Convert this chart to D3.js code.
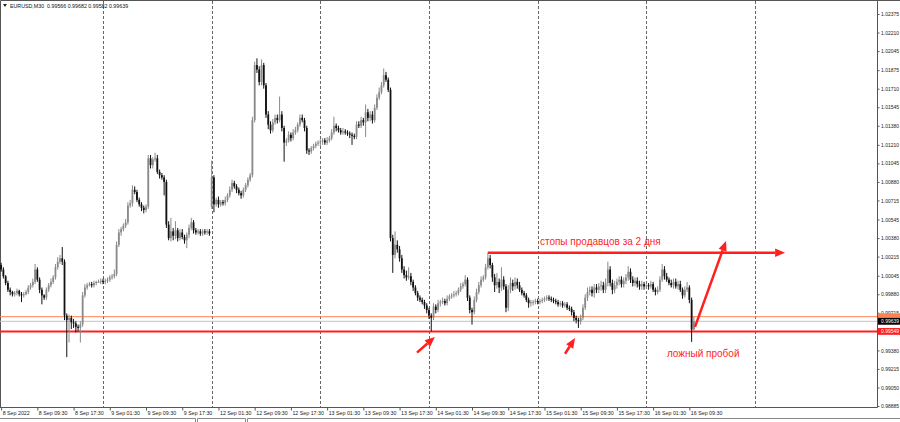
<!DOCTYPE html>
<html>
<head>
<meta charset="utf-8">
<title>EURUSD,M30</title>
<script src="https://d3js.org/d3.v7.min.js"></script>
<style>
  body { margin: 0; background: #fff; }
  svg { display: block; font-family: "Liberation Sans", Arial, sans-serif; }
</style>
</head>
<body>
<div id="chart"></div>
<script>
// ---- data (M30 candles, 8 Sep 01:30 .. 16 Sep 10:30) ----
const symbol = "EURUSD,M30";
const lastQuote = "0.99566 0.99682 0.99582 0.99639";
const pip = 0.0001;
const firstSlot = 3;            // 8 Sep 01:30 = half-hour slot 3 of the first day
const firstOpen = 1.0014;
const mondayIndex = 93;         // first candle of 12 Sep (weekend gap)
const mondayOpen = 1.0066;

const closes = [
  // 8 Sep
  1.0010, 1.0004, 0.9998, 0.9992, 0.9990, 0.9988, 0.9989, 0.9991, 0.9988, 0.9987,
  0.9988, 0.9990, 0.9994, 0.9996, 0.9999, 1.0010, 1.0001, 0.9992, 0.9987, 0.9985,
  0.9992, 0.9996, 0.9999, 1.0003, 1.0012, 1.0017, 1.0020, 1.0017, 0.9969, 0.9965,
  0.9967, 0.9963, 0.9962, 0.9959, 0.9958, 0.9961, 0.9987, 0.9994, 0.9996, 0.9997,
  0.9996, 0.9998, 0.9999, 0.9999, 1.0000,
  // 9 Sep
  0.9999, 1.0000, 1.0001, 1.0003, 1.0004, 1.0006, 1.0032, 1.0043, 1.0046, 1.0049,
  1.0052, 1.0067, 1.0069, 1.0081, 1.0079, 1.0072, 1.0068, 1.0065, 1.0063, 1.0066,
  1.0109, 1.0103, 1.0108, 1.0109, 1.0097, 1.0094, 1.0092, 1.0088, 1.0050, 1.0038,
  1.0044, 1.0040, 1.0045, 1.0038, 1.0043, 1.0039, 1.0036, 1.0041, 1.0047, 1.0052,
  1.0045, 1.0043, 1.0044, 1.0042, 1.0044, 1.0043, 1.0044, 1.0042,
  // 12 Sep
  1.0092, 1.0068, 1.0072, 1.0068, 1.0070, 1.0069, 1.0072, 1.0076, 1.0081, 1.0087,
  1.0084, 1.0081, 1.0078, 1.0076, 1.0081, 1.0085, 1.0090, 1.0094, 1.0143, 1.0192,
  1.0188, 1.0177, 1.0192, 1.0174, 1.0148, 1.0139, 1.0134, 1.0141, 1.0145, 1.0143,
  1.0148, 1.0136, 1.0123, 1.0125, 1.0130, 1.0127, 1.0132, 1.0134, 1.0139, 1.0145,
  1.0143, 1.0136, 1.0116, 1.0115, 1.0118, 1.0120, 1.0122, 1.0123,
  // 13 Sep
  1.0124, 1.0125, 1.0123, 1.0125, 1.0127, 1.0132, 1.0138, 1.0136, 1.0134, 1.0132,
  1.0133, 1.0132, 1.0131, 1.0130, 1.0129, 1.0128, 1.0139, 1.0138, 1.0143, 1.0141,
  1.0150, 1.0145, 1.0148, 1.0143, 1.0154, 1.0163, 1.0168, 1.0174, 1.0183, 1.0179,
  1.0170, 1.0038, 1.0023, 1.0032, 1.0028, 1.0020, 1.0010, 1.0005, 1.0003, 1.0004,
  0.9999, 0.9994, 0.9989, 0.9985, 0.9983, 0.9981, 0.9978, 0.9974,
  // 14 Sep
  0.9969, 0.9967, 0.9977, 0.9974, 0.9980, 0.9981, 0.9982, 0.9980, 0.9984, 0.9986,
  0.9987, 0.9988, 0.9989, 0.9992, 0.9995, 0.9997, 1.0001, 0.9985, 0.9974, 0.9972,
  0.9983, 0.9990, 0.9996, 1.0001, 1.0003, 1.0012, 1.0020, 1.0014, 1.0003, 0.9996,
  0.9999, 0.9994, 1.0001, 0.9995, 0.9976, 0.9992, 0.9998, 0.9995, 0.9999, 0.9996,
  0.9992, 0.9989, 0.9987, 0.9983, 0.9980, 0.9981, 0.9981, 0.9982,
  // 15 Sep
  0.9981, 0.9982, 0.9983, 0.9984, 0.9985, 0.9984, 0.9983, 0.9982, 0.9981, 0.9979,
  0.9980, 0.9978, 0.9979, 0.9976, 0.9975, 0.9972, 0.9967, 0.9965, 0.9964, 0.9967,
  0.9976, 0.9985, 0.9990, 0.9992, 0.9989, 0.9994, 0.9992, 0.9995, 0.9996, 0.9992,
  0.9998, 1.0010, 0.9998, 0.9992, 0.9996, 0.9999, 1.0001, 0.9997, 1.0000, 1.0003,
  1.0008, 1.0001, 0.9998, 1.0000, 0.9997, 0.9995, 0.9997, 0.9995,
  // 16 Sep
  0.9996, 0.9995, 0.9997, 0.9992, 0.9990, 0.9992, 1.0001, 1.0010, 1.0004, 1.0001,
  0.9998, 0.9996, 0.9999, 0.9995, 0.9997, 0.9992, 0.9987, 0.9992, 0.9994, 0.9983,
  0.99566, 0.99639
];

// wick lengths above / below the body, in pips
const wickUp = [
  2,2,1,2,2,1,2,2,1,2, 2,2,2,2,3,5,2,2,2,1, 2,2,3,2,3,4,3,10,2,2, 3,2,3,2,2,3,3,3,2,2, 2,2,1,2,2,
  2,2,2,2,2,4,3,3,2,2, 3,3,3,4,3,2,2,2,2,2, 3,3,2,5,3,2,2,2,2,3, 12,3,8,2,3,3,2,2,3,4, 2,2,2,2,2,2,2,2,
  15,2,2,3,2,2,3,2,3,3, 2,2,2,2,2,2,2,2,3,3, 6,3,5,2,2,3,3,3,3,3, 16,3,2,2,3,2,3,3,2,3, 3,2,2,2,2,2,2,2,
  2,2,2,3,2,3,8,2,2,2, 3,2,2,2,2,2,3,3,3,2, 7,3,3,3,3,3,4,3,6,3, 2,2,3,12,4,3,3,3,4,8, 3,2,2,2,2,2,2,2,
  2,2,3,2,3,2,3,2,3,2, 2,3,2,2,3,2,4,2,2,2, 3,3,3,3,2,3,5,3,2,3, 8,3,11,3,2,4,5,3,4,3, 3,2,2,2,2,2,2,2,
  2,2,2,2,2,2,2,2,2,2, 2,2,2,2,2,2,2,2,2,3, 3,3,4,3,3,3,3,3,4,3, 4,7,3,3,4,3,3,3,3,3, 5,3,3,3,3,3,3,2,
  2,2,3,2,2,3,3,5,3,3, 2,3,3,3,3,3,2,3,5,2, 2,4
];
const wickDown = [
  2,2,2,2,3,2,2,2,2,6, 2,1,2,2,2,2,2,3,8,2, 2,2,2,2,2,2,2,3,4,33, 20,6,4,5,3,13,2,2,2,1, 2,2,2,1,2,
  2,2,2,2,2,2,2,2,3,2, 2,2,2,3,2,2,2,3,3,2, 2,3,3,2,2,3,2,12,3,2, 3,4,3,3,2,2,3,7,3,2, 3,2,2,2,2,2,2,2,
  2,7,2,3,2,2,2,2,2,2, 2,3,2,3,2,2,2,2,2,2, 3,3,3,3,3,4,3,2,2,3, 2,3,17,3,2,3,2,2,2,2, 2,3,3,3,2,2,2,2,
  3,3,2,2,2,2,2,3,2,2, 2,2,2,3,8,2,2,2,2,3, 13,3,3,3,2,2,2,2,2,2, 2,3,16,3,3,3,3,3,3,2, 3,3,2,3,2,2,3,3,
  3,12,2,3,2,3,2,2,2,2, 2,2,2,2,2,2,2,3,3,11, 2,2,2,2,2,2,2,3,4,6, 3,5,3,3,4,3,3,4,3,3, 2,2,2,2,4,3,3,2,
  2,2,2,2,2,2,2,2,2,2, 2,2,2,2,2,3,3,3,6,3, 2,2,3,3,3,4,3,3,4,3, 3,3,3,4,3,3,3,3,3,3, 3,3,3,3,3,3,3,3,
  2,3,2,2,3,2,2,2,3,2, 2,2,3,2,3,2,3,2,2,3, 11,1
];

// axes
const priceTicks = [1.02375, 1.02210, 1.02045, 1.01875, 1.01710, 1.01545, 1.01380, 1.01210,
  1.01045, 1.00880, 1.00715, 1.00545, 1.00380, 1.00215, 1.00045, 0.99880, 0.99715,
  0.99380, 0.99215, 0.99050, 0.98885];
const timeLabels = ["8 Sep 2022", "8 Sep 09:30", "8 Sep 17:30", "9 Sep 01:30", "9 Sep 09:30",
  "9 Sep 17:30", "12 Sep 01:30", "12 Sep 09:30", "12 Sep 17:30", "13 Sep 01:30",
  "13 Sep 09:30", "13 Sep 17:30", "14 Sep 01:30", "14 Sep 09:30", "14 Sep 17:30",
  "15 Sep 01:30", "15 Sep 09:30", "15 Sep 17:30", "16 Sep 01:30", "16 Sep 09:30"];
const timeLabelSlots = [3, 19, 35, 51, 67, 83, 99, 115, 131, 147, 163, 179, 195, 211, 227,
  243, 259, 275, 291, 307];
const daySlots = [48, 96, 144, 192, 240, 288, 336];

// horizontal levels and price boxes
const levels = [
  { price: 0.99680, color: "#ff8050", width: 1, boxFill: "#ff8050", label: false },
  { price: 0.99639, color: "#c4c4c4", width: 1, boxFill: "#000", label: true },
  { price: 0.99549, color: "#ff1f1f", width: 2, boxFill: "#ff1f1f", label: true }
];

// hand-drawn annotations (slot, price)
const arrows = [
  { s1: 186.7, p1: 0.9936, s2: 194.6, p2: 0.9950 },
  { s1: 252.1, p1: 0.9935, s2: 256.5, p2: 0.9949 },
  { s1: 309.5, p1: 0.9959, s2: 323.2, p2: 1.00355 },
  { s1: 218.0, p1: 1.0025, s2: 349.3, p2: 1.0025 }
];
const notes = [
  { text: "стопы продавцов за 2 дня", slot: 241, price: 1.0032 },
  { text: "ложный пробой", slot: 297.1, price: 0.99325 }
];

// ---- drawing ----
const W = 900, H = 422, plotRight = 877, plotBottom = 407;
const red = "#ff1f1f";
const font = "'Liberation Sans', Arial, sans-serif";

const x = d3.scaleLinear().domain([48, 336]).range([103, 755]);
const y = d3.scaleLinear().domain([1.02375, 0.98885]).range([14, 406]);

const candles = closes.map((c, i) => {
  const o = i === 0 ? firstOpen : (i === mondayIndex ? mondayOpen : closes[i - 1]);
  return {
    slot: firstSlot + i, o, c,
    h: Math.max(o, c) + wickUp[i] * pip,
    l: Math.min(o, c) - wickDown[i] * pip
  };
});

const svg = d3.select("#chart").append("svg").attr("width", W).attr("height", H);
svg.append("rect").attr("width", W).attr("height", H).attr("fill", "#fff");

svg.append("clipPath").attr("id", "plot")
  .append("rect").attr("x", 0).attr("y", 0).attr("width", plotRight).attr("height", plotBottom);

// frame
svg.append("path")
  .attr("d", `M0.5,${plotBottom}V0.5H${W}M${plotRight + 0.5},0V${plotBottom + 0.5}H0`)
  .attr("fill", "none").attr("stroke", "#555").attr("stroke-width", 1);

// day separators
svg.append("g").selectAll("line").data(daySlots).join("line")
  .attr("x1", d => Math.round(x(d)) + 0.5).attr("x2", d => Math.round(x(d)) + 0.5)
  .attr("y1", 1).attr("y2", plotBottom)
  .attr("stroke", "#666").attr("stroke-dasharray", "3,2");

const plot = svg.append("g").attr("clip-path", "url(#plot)");

// levels
plot.selectAll(".level").data(levels).join("line")
  .attr("class", "level")
  .attr("x1", 0).attr("x2", plotRight)
  .attr("y1", d => y(d.price)).attr("y2", d => y(d.price))
  .attr("stroke", d => d.color).attr("stroke-width", d => d.width);

// candles
const up = d => d.c >= d.o;
const g = plot.append("g").selectAll("g").data(candles).join("g");
g.append("line")
  .attr("x1", d => x(d.slot)).attr("x2", d => x(d.slot))
  .attr("y1", d => y(d.h)).attr("y2", d => y(d.l))
  .attr("stroke", d => up(d) ? "#8a8a8a" : "#111").attr("stroke-width", 1);
g.append("rect")
  .attr("x", d => x(d.slot) - 0.9).attr("width", 1.8)
  .attr("y", d => y(Math.max(d.o, d.c)))
  .attr("height", d => Math.max(1, Math.abs(y(d.o) - y(d.c))))
  .attr("fill", d => up(d) ? "#8a8a8a" : "#111");

// price axis
const yAxis = svg.append("g").attr("transform", `translate(${plotRight + 0.5},0)`)
  .call(d3.axisRight(y).tickValues(priceTicks).tickFormat(d3.format(".5f")).tickSize(2).tickPadding(1.5));
yAxis.select(".domain").remove();
yAxis.selectAll("text").attr("font-size", 5).attr("fill", "#222").attr("font-family", font);
yAxis.selectAll(".tick line").attr("stroke", "#555");

// price boxes
const boxes = svg.append("g").selectAll("g").data(levels).join("g")
  .attr("transform", d => `translate(${plotRight + 1},${y(d.price)})`);
boxes.append("rect").attr("x", 0).attr("y", -3.4).attr("width", W - plotRight).attr("height", 6.8)
  .attr("fill", d => d.boxFill);
boxes.filter(d => d.label).append("text").attr("x", 3).attr("y", 1.8).attr("font-size", 5)
  .attr("fill", "#fff").attr("font-family", font).text(d => d3.format(".5f")(d.price));

// time axis
const xAxis = svg.append("g").attr("transform", `translate(0,${plotBottom + 0.5})`)
  .call(d3.axisBottom(x).tickValues(timeLabelSlots).tickFormat((d, i) => timeLabels[i]).tickSize(3));
xAxis.select(".domain").remove();
xAxis.selectAll(".tick line").attr("stroke", "#555");
xAxis.selectAll("text").attr("text-anchor", "start").attr("x", 1).attr("y", 4)
  .attr("font-size", 5.3).attr("fill", "#222").attr("font-family", font);

// bottom tab strip
svg.append("path")
  .attr("d", "M0,418.5H195.5V422M197.5,422V418.5H245.5V422M247.5,422V418.5H900")
  .attr("fill", "none").attr("stroke", "#888");

// header
svg.append("path").attr("d", "M3,4L7,4L5,7Z").attr("fill", "#222");
svg.append("text").attr("x", 10).attr("y", 7.5).attr("font-size", 5.3).attr("fill", "#111")
  .attr("font-family", font).style("white-space", "pre")
  .text(symbol + "  " + lastQuote);

// annotations
const ann = svg.append("g");
arrows.forEach(a => {
  const x1 = x(a.s1), y1 = y(a.p1), x2 = x(a.s2), y2 = y(a.p2);
  const ang = Math.atan2(y2 - y1, x2 - x1);
  const len = 10, half = 4.2;
  const bx = x2 - len * Math.cos(ang), by = y2 - len * Math.sin(ang);
  ann.append("line").attr("x1", x1).attr("y1", y1).attr("x2", bx).attr("y2", by)
    .attr("stroke", red).attr("stroke-width", 2.5);
  ann.append("path")
    .attr("d", `M${x2},${y2}L${bx + half * Math.sin(ang)},${by - half * Math.cos(ang)}` +
      `L${bx - half * Math.sin(ang)},${by + half * Math.cos(ang)}Z`)
    .attr("fill", red);
});
ann.selectAll("text").data(notes).join("text")
  .attr("x", d => x(d.slot)).attr("y", d => y(d.price))
  .attr("font-size", 10).attr("fill", red).attr("font-family", font)
  .text(d => d.text);
</script>
</body>
</html>
